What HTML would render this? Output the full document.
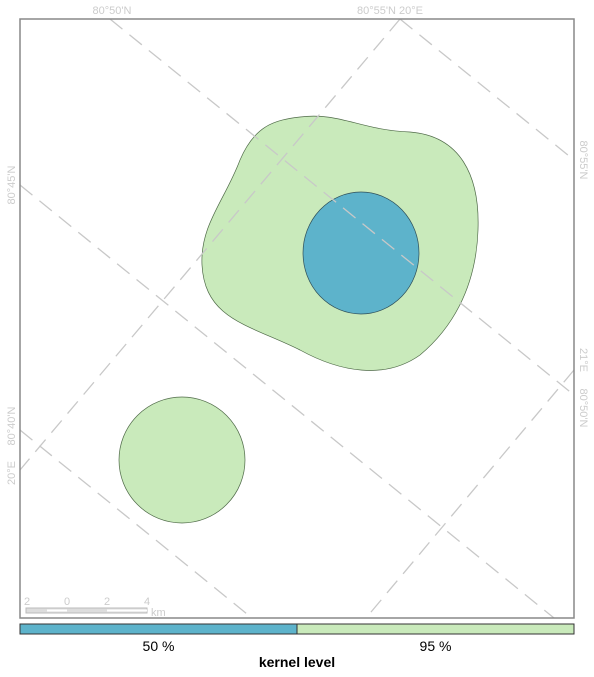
<!DOCTYPE html>
<html><head><meta charset="utf-8"><style>
body{margin:0;background:#fff;font-family:"Liberation Sans",sans-serif}
</style></head><body>
<svg width="594" height="672" viewBox="0 0 594 672">
<g id="shapes"></g>
<g stroke="#c8c8c8" stroke-width="1.3" stroke-dasharray="16,9" fill="none">
<line x1="110" y1="19" x2="574" y2="395"/>
<line x1="400" y1="19" x2="574" y2="160"/>
<line x1="20" y1="185" x2="554" y2="618"/>
<line x1="20" y1="430" x2="252" y2="618"/>
<line x1="400" y1="19" x2="20" y2="470"/>
<line x1="574" y1="370" x2="366" y2="618"/>
</g>
<rect x="20" y="19" width="554" height="599" fill="none" stroke="#888" stroke-width="1.5"/>
<g font-size="11" fill="#ccc">
<text x="112" y="14" text-anchor="middle">80°50'N</text>
<text x="390" y="14" text-anchor="middle">80°55'N 20°E</text>
<text transform="translate(15,185) rotate(-90)" text-anchor="middle">80°45'N</text>
<text transform="translate(15,426) rotate(-90)" text-anchor="middle">80°40'N</text>
<text transform="translate(15,473) rotate(-90)" text-anchor="middle">20°E</text>
<text transform="translate(580,160) rotate(90)" text-anchor="middle">80°55'N</text>
<text transform="translate(580,360) rotate(90)" text-anchor="middle">21°E</text>
<text transform="translate(580,408) rotate(90)" text-anchor="middle">80°50'N</text>
</g>
<g font-size="11" fill="#ccc">
<rect x="26" y="608" width="121" height="5" fill="#ddd" stroke="#bbb"/>
<line x1="47" y1="610.5" x2="67" y2="610.5" stroke="#fff" stroke-width="2"/>
<line x1="107" y1="610.5" x2="147" y2="610.5" stroke="#fff" stroke-width="2"/>
<text x="27" y="605" text-anchor="middle">2</text>
<text x="67" y="605" text-anchor="middle">0</text>
<text x="107" y="605" text-anchor="middle">2</text>
<text x="147" y="605" text-anchor="middle">4</text>
<text x="151" y="616">km</text>
</g>
<g id="legend"></g>
<text x="297" y="667" text-anchor="middle" font-size="14" font-weight="bold" fill="#000">kernel level</text>
</svg>
<script>
const levels = ["50 %", "95 %"];
const levelColors = ["#5db3cb", "#c9eabb"];
const ns = "http://www.w3.org/2000/svg";
const shapes = document.getElementById('shapes');
function mk(tag, attrs, parent){const e=document.createElementNS(ns,tag);for(const k in attrs)e.setAttribute(k,attrs[k]);parent.appendChild(e);return e;}
const big = mk('path',{d:"M 300 117 C 340 112 360 130 410 132 C 460 136 480 175 478 230 C 476 290 450 330 420 355 C 385 380 340 372 300 350 C 250 325 205 320 202 265 C 200 225 225 200 240 160 C 255 125 275 120 300 117 Z",fill:levelColors[1],stroke:"#4f6a48","stroke-width":"0.7"},shapes);


const small = mk('circle',{cx:182,cy:460,r:63,fill:levelColors[1],stroke:"#4f6a48","stroke-width":"0.7"},shapes);


const core = mk('ellipse',{cx:361,cy:253,rx:58,ry:61,fill:levelColors[0],stroke:"#2e4e58","stroke-width":"0.7"},shapes);


const lg = document.getElementById('legend');
const x0=20, w=554, segW=w/levels.length;
levels.forEach((lv,i)=>{
  const r = mk('rect',{x:x0+i*segW,y:624,width:segW,height:10,fill:levelColors[i],stroke:"#333","stroke-width":"1"},lg);
  
  
  const t = mk('text',{x:x0+i*segW+segW/2,y:651,"text-anchor":"middle","font-size":"14",fill:"#000"},lg);
  t.textContent = lv;
  
  
});
</script>
</body></html>
